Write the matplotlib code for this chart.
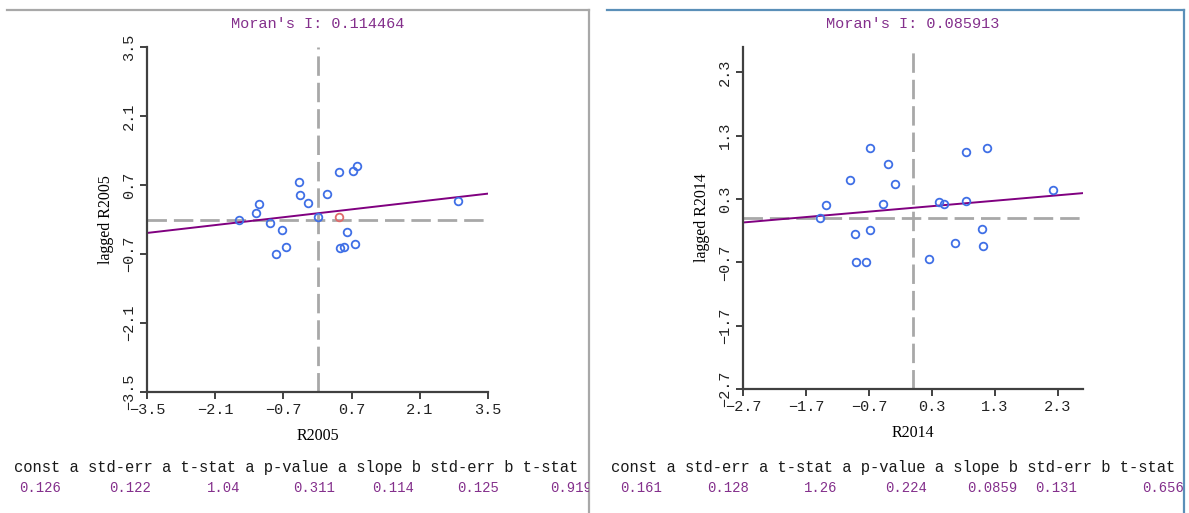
import matplotlib
matplotlib.use("Agg")
import matplotlib.pyplot as plt
import numpy as np

# values
x2005 = [-1.61, -1.26, -1.20, -0.98, -0.73, -0.86, -0.64, -0.39, -0.36, -0.20,
         0.02, 0.20, 0.45, 0.61, 0.47, 0.54, 0.76, 0.72, 0.82, 2.88]
lag2005 = [0.00, 0.13, 0.31, -0.07, -0.21, -0.71, -0.56, 0.77, 0.49, 0.34,
           0.06, 0.52, 0.96, -0.25, -0.58, -0.56, -0.50, 0.98, 1.08, 0.37]
sel_x2005 = [0.44]  # highlighted (red) point
sel_lag2005 = [0.06]

x2014 = [-1.47, -1.38, -1.00, -0.92, -0.90, -0.74, -0.68, -0.68, -0.47, -0.40,
         -0.28, 0.25, 0.41, 0.49, 0.66, 0.84, 0.84, 1.09, 1.11, 1.18, 2.23]
lag2014 = [0.00, 0.21, 0.60, -0.25, -0.70, -0.70, -0.19, 1.10, 0.22, 0.86,
           0.53, -0.65, 0.25, 0.22, -0.39, 1.05, 0.27, -0.17, -0.44, 1.10, 0.44]

# last column is cut by the window edge in the original
stat_names = ["const a", "std-err a", "t-stat a", "p-value a",
              "slope b", "std-err b", "t-stat"]
stats2005 = [0.126, 0.122, 1.04, 0.311, 0.114, 0.125, 0.919]
stats2014 = [0.161, 0.128, 1.26, 0.224, 0.0859, 0.131, 0.656]
moran = [0.114464, 0.085913]

ticks2005 = [-3.5, -2.1, -0.7, 0.7, 2.1, 3.5]
ticks2014 = [-2.7, -1.7, -0.7, 0.3, 1.3, 2.3]

W, H = 1189, 513
plt.rcParams['lines.scale_dashes'] = False
MONO = ['Liberation Mono', 'DejaVu Sans Mono']
SERIF = ['Liberation Serif', 'DejaVu Serif']
PURPLE = '#84308C'

fig = plt.figure(figsize=(W / 100, H / 100), dpi=100)
fig.patch.set_facecolor('white')


def fmt(v):
    return ('%.1f' % v).replace('-', '\u2212')


def draw_panel(box, plot_box, x, y, sel_x, sel_y, stats, mi, name,
               lim, ticks, border, head_x, val_x):
    # panel frame, coordinates in image pixels
    x0, y0, x1, y1 = box
    pan = fig.add_axes([x0 / W, 1 - y1 / H, (x1 - x0) / W, (y1 - y0) / H])
    pan.set_xlim(x0, x1)
    pan.set_ylim(y1, y0)
    pan.set_xticks([])
    pan.set_yticks([])
    for s in ['left', 'bottom']:
        pan.spines[s].set_visible(False)
    for s in ['top', 'right']:
        pan.spines[s].set_color(border)
        pan.spines[s].set_linewidth(1.6)

    # stats table under the plot
    pan.text(head_x, 467, ' '.join(stat_names), ha='left', va='center',
             fontsize=11.2, family=MONO, color='#1a1a1a')
    for v, px in zip(stats, val_x):
        pan.text(px, 488, '%.3g' % v, ha='center', va='center',
                 fontsize=10, family=MONO, color=PURPLE, clip_on=True)

    px0, py0, px1, py1 = plot_box
    ax = fig.add_axes([px0 / W, 1 - py1 / H, (px1 - px0) / W, (py1 - py0) / H])
    ax.patch.set_alpha(0)
    ax.set_xlim(-lim, lim)
    ax.set_ylim(-lim, lim)

    ax.axvline(0, color='#A8A8A8', lw=2, dashes=(14, 5), zorder=1)
    ax.axhline(0, color='#A8A8A8', lw=2, dashes=(14, 5), zorder=1)

    a, b = stats[0], stats[4]
    xs = np.array([-lim, lim])
    ax.plot(xs, a + b * xs, color='#800080', lw=1.4, zorder=2)

    ax.plot(x, y, 'o', mfc='none', mec='#3F6FE6', mew=1.3, ms=5.5, zorder=3)
    if sel_x:
        ax.plot(sel_x, sel_y, 'o', mfc='none', mec='#E06A6A', mew=1.3,
                ms=5.5, zorder=3)

    for s in ['top', 'right']:
        ax.spines[s].set_visible(False)
    for s in ['left', 'bottom']:
        ax.spines[s].set_color('#404040')
        ax.spines[s].set_linewidth(1.6)
    ax.set_xticks(ticks)
    ax.set_yticks(ticks)
    labels = [fmt(t) for t in ticks]
    ax.set_xticklabels(labels, family=MONO, fontsize=11, color='#222222')
    ax.set_yticklabels(labels, family=MONO, fontsize=11, color='#222222',
                       rotation=90, va='center')
    ax.tick_params(direction='out', length=5, width=1.4, color='#404040', pad=3)

    ax.set_xlabel(name, family=SERIF, fontsize=11.5, labelpad=8)
    ax.set_ylabel('lagged ' + name, family=SERIF, fontsize=11.5, labelpad=6)
    ax.set_title("Moran's I: %g" % mi, family=MONO, fontsize=11,
                 color=PURPLE, pad=14)
    return ax


draw_panel((7, 10, 589, 513), (147, 47, 488, 392), x2005, lag2005,
           sel_x2005, sel_lag2005, stats2005, moran[0], 'R2005', 3.5,
           ticks2005, '#A8A8A8', 14, [40, 130, 224, 314, 393, 478, 571])
draw_panel((607, 10, 1184, 513), (743, 47, 1083, 389), x2014, lag2014,
           [], [], stats2014, moran[1], 'R2014', 2.7,
           ticks2014, '#5A8FB8', 611, [641, 728, 821, 906, 992, 1056, 1163])

fig.savefig('out.png', dpi=100, facecolor='white')
